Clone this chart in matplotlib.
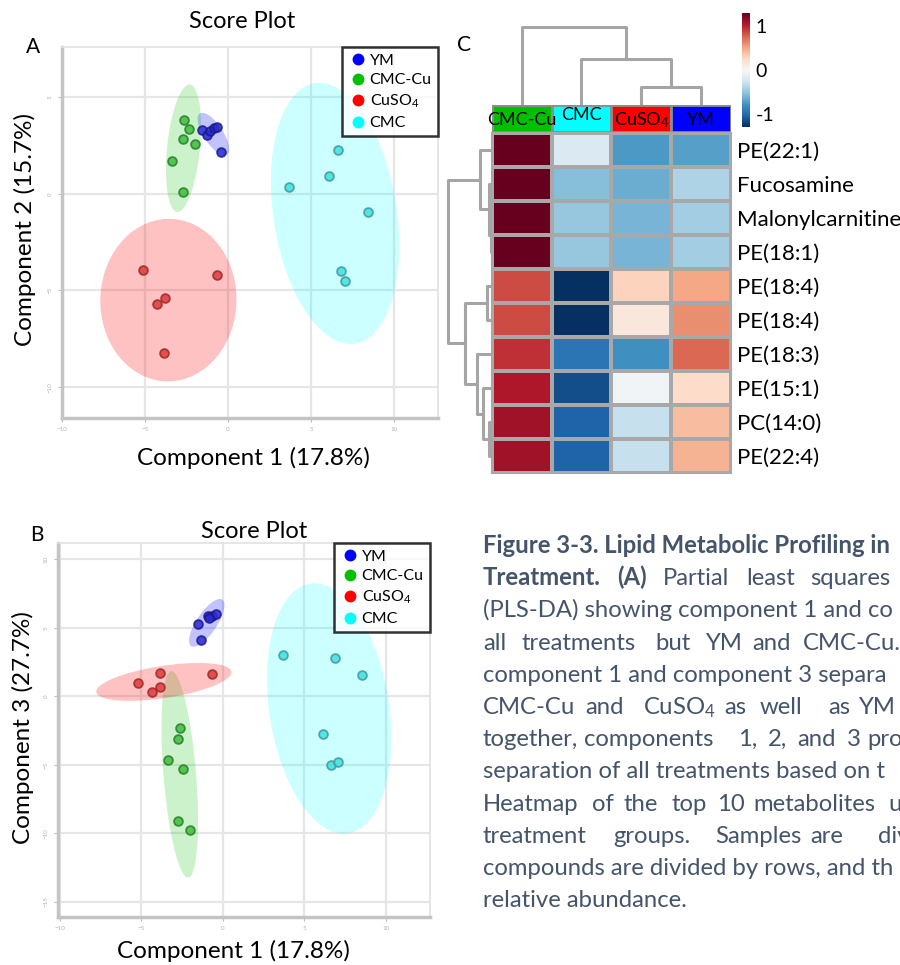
import matplotlib.pyplot as plt
from matplotlib.patches import Ellipse, Rectangle
import numpy as np

plt.rcParams['font.family'] = ['Lato', 'DejaVu Sans']
plt.rcParams['mathtext.fontset'] = 'custom'
plt.rcParams['mathtext.rm'] = 'Lato'
plt.rcParams['mathtext.it'] = 'Lato:italic'
plt.rcParams['mathtext.bf'] = 'Lato:bold'

W, H = 900, 965

groups = ['YM', 'CMC-Cu', 'CuSO4', 'CMC']
group_labels = ['YM', 'CMC-Cu', 'CuSO$_4$', 'CMC']
dot_colors = ['#2b2bd6', '#3cbf3c', '#e03a3a', '#3ee0e0']
dot_edges = ['#1a1a8a', '#2a7f2a', '#9c2a2a', '#3f9a9a']
fill_colors = ['#0000ff', '#00c000', '#ff0000', '#00ffff']
fill_alpha = [0.24, 0.2, 0.24, 0.2]

# scores: component 1 vs component 2
a_ym_x = [-1.57, -1.27, -1.08, -0.84, -0.66, -0.42]
a_ym_y = [3.32, 3.06, 3.27, 3.43, 3.48, 2.18]
a_cmccu_x = [-2.65, -2.35, -2.71, -1.99, -3.37, -2.71]
a_cmccu_y = [3.84, 3.37, 2.85, 2.59, 1.71, 0.10]
a_cuso4_x = [-5.12, -0.66, -3.80, -4.28, -3.86]
a_cuso4_y = [-3.94, -4.20, -5.40, -5.71, -8.25]
a_cmc_x = [6.63, 6.08, 3.67, 8.43, 6.81, 7.05]
a_cmc_y = [2.28, 0.93, 0.36, -0.93, -4.00, -4.51]

# scores: component 1 vs component 3
b_ym_x = [-1.52, -0.90, -0.69, -0.39, -1.31, -0.84]
b_ym_y = [5.26, 5.84, 5.84, 5.99, 4.09, 5.69]
b_cmccu_x = [-2.64, -2.74, -3.36, -2.44, -2.74, -2.02]
b_cmccu_y = [-2.34, -3.09, -4.67, -5.33, -9.10, -9.78]
b_cuso4_x = [-5.20, -3.87, -3.87, -4.31, -0.69]
b_cuso4_y = [1.00, 1.68, 0.68, 0.31, 1.61]
b_cmc_x = [3.70, 6.87, 8.51, 6.15, 6.63, 7.07]
b_cmc_y = [3.04, 2.80, 1.56, -2.77, -5.01, -4.77]

# 95% regions: centre x, centre y, semi-major, semi-minor, angle (deg)
a_regions = [(-0.88, 3.09, 1.35, 0.55, -51),
             (-2.68, 2.36, 3.32, 0.99, 83.2),
             (-3.59, -5.50, 4.21, 4.10, 80.5),
             (6.45, -1.01, 6.85, 3.70, 101.2)]
b_regions = [(-0.98, 5.37, 1.95, 0.65, 61.8),
             (-2.64, -5.69, 7.56, 1.00, 93.9),
             (-3.61, 1.06, 4.21, 1.17, 10.5),
             (6.52, -0.88, 9.19, 3.68, 96.7)]

# heatmap of top 10 metabolites
hm_cols = ['CMC-Cu', 'CMC', 'CuSO4', 'YM']
hm_col_labels = ['CMC-Cu', 'CMC', 'CuSO$_4$', 'YM']
hm_col_colors = ['#00c000', '#00ffff', '#ff0000', '#0000ff']
hm_rows = ['PE(22:1)', 'Fucosamine', 'Malonylcarnitine', 'PE(18:1)', 'PE(18:4)',
           'PE(18:4)', 'PE(18:3)', 'PE(15:1)', 'PC(14:0)', 'PE(22:4)']
hm_values = [[1.30, -0.20, -0.75, -0.72],
             [1.30, -0.55, -0.65, -0.40],
             [1.30, -0.50, -0.60, -0.45],
             [1.30, -0.50, -0.60, -0.45],
             [0.85, -1.30, 0.30, 0.50],
             [0.85, -1.30, 0.15, 0.60],
             [0.95, -0.95, -0.80, 0.75],
             [1.05, -1.15, -0.05, 0.25],
             [1.10, -1.05, -0.30, 0.40],
             [1.10, -1.05, -0.30, 0.45]]

# dendrograms as (height, left, right); ints are leaf indices
col_tree = (76, 0, (44, 1, (16, 2, 3)))
row_tree = (43.3, (11.7, 0, (2.3, 1, (1.0, 2, 3))),
            (26.7, (5.0, 4, 5), (15.0, 6, (9.0, 7, (2.3, 8, 9)))))

caption_color = '#44546a'
caption_lines = [
    [('Figure 3-3. Lipid Metabolic Profiling in', 483, True)],
    [('Treatment.', 483, True), ('(A)', 617, True), ('Partial', 663, False),
     ('least', 746, False), ('squares', 810, False)],
    [('(PLS-DA) showing component 1 and co', 483, False)],
    [('all', 483, False), ('treatments', 522, False), ('but', 655, False),
     ('YM', 705, False), ('and', 752, False), ('CMC-Cu.', 803, False)],
    [('component 1 and component 3 separa', 483, False)],
    [('CMC-Cu', 483, False), ('and', 585, False), ('CuSO$_4$', 643, False),
     ('as', 724, False), ('well', 760, False), ('as', 828, False), ('YM', 858, False)],
    [('together,', 483, False), ('components', 584, False), ('1,', 738, False),
     ('2,', 768, False), ('and', 797, False), ('3', 847, False), ('pro', 867, False)],
    [('separation of all treatments based on t', 483, False)],
    [('Heatmap', 483, False), ('of', 592, False), ('the', 623, False), ('top', 672, False),
     ('10', 717, False), ('metabolites', 753, False), ('u', 888, False)],
    [('treatment', 483, False), ('groups.', 613, False), ('Samples', 715, False),
     ('are', 810, False), ('div', 878, False)],
    [('compounds are divided by rows, and th', 483, False)],
    [('relative abundance.', 483, False)],
]


def box(left, top, right, bottom):
    return [left / W, 1 - bottom / H, (right - left) / W, (bottom - top) / H]


def score_plot(ax, xs, ys, regions, xlim, ylim, yticks):
    for i, (cx, cy, a, b, ang) in enumerate(regions):
        ax.add_patch(Ellipse((cx, cy), 2 * a, 2 * b, angle=ang,
                             facecolor=fill_colors[i], alpha=fill_alpha[i],
                             edgecolor='none', zorder=1))
    for i in range(len(groups)):
        ax.scatter(xs[i], ys[i], s=40, color=dot_colors[i], edgecolors=dot_edges[i],
                   linewidths=1.3, alpha=0.85, zorder=3)
    ax.set_xlim(*xlim)
    ax.set_ylim(*ylim)
    ax.set_xticks([-10, -5, 0, 5, 10])
    ax.set_yticks(yticks)
    ax.grid(True, color='#e6e6e6', lw=1.6, zorder=0)
    ax.set_axisbelow(True)
    ax.tick_params(labelsize=4.5, labelcolor='#b4b4b4', color='#bbbbbb', length=3)
    plt.setp(ax.get_yticklabels(), rotation=90, va='center')
    for side in ['top', 'right']:
        ax.spines[side].set_color('#e2e2e2')
        ax.spines[side].set_linewidth(1.2)
    for side in ['left', 'bottom']:
        ax.spines[side].set_color('#c4c4c4')
        ax.spines[side].set_linewidth(2.5)
    handles = [plt.Line2D([], [], ls='none', marker='o', ms=7.5, color=fill_colors[i])
               for i in range(len(groups))]
    leg = ax.legend(handles, group_labels, loc='upper right', fontsize=11.5,
                    frameon=True, fancybox=False, borderaxespad=0.0,
                    handletextpad=0.1, handlelength=1.2, labelspacing=0.35,
                    borderpad=0.4)
    leg.get_frame().set_edgecolor('black')
    leg.get_frame().set_linewidth(1.8)
    leg.set_zorder(5)


def draw_tree(ax, node, sideways=False):
    if isinstance(node, int):
        return node + 0.5, 0.0
    h, left, right = node
    p1, h1 = draw_tree(ax, left, sideways)
    p2, h2 = draw_tree(ax, right, sideways)
    pos = [p1, p1, p2, p2]
    hts = [h1, h, h, h2]
    if sideways:
        ax.plot(hts, pos, color='#a5a5a5', lw=2.2)
    else:
        ax.plot(pos, hts, color='#a5a5a5', lw=2.2)
    return (p1 + p2) / 2, h


fig = plt.figure(figsize=(W / 100, H / 100), dpi=100)

# --- A: component 1 vs 2
ax_a = fig.add_axes(box(62, 47, 438, 418))
score_plot(ax_a, [a_ym_x, a_cmccu_x, a_cuso4_x, a_cmc_x],
           [a_ym_y, a_cmccu_y, a_cuso4_y, a_cmc_y], a_regions,
           (-10, 12.65), (-11.6, 7.6), [-10, -5, 0, 5])
fig.text(242 / W, 1 - 22 / H, 'Score Plot', fontsize=17, ha='center', va='center')
fig.text(253 / W, 1 - 458 / H, 'Component 1 (17.8%)', fontsize=17.5, ha='center', va='center')
fig.text(25 / W, 1 - 230 / H, 'Component 2 (15.7%)', fontsize=17.5, ha='center',
         va='center', rotation=90)
fig.text(33 / W, 1 - 47 / H, 'A', fontsize=15, ha='center', va='center')

# --- B: component 1 vs 3
ax_b = fig.add_axes(box(58, 543, 430, 917))
score_plot(ax_b, [b_ym_x, b_cmccu_x, b_cuso4_x, b_cmc_x],
           [b_ym_y, b_cmccu_y, b_cuso4_y, b_cmc_y], b_regions,
           (-10.1, 12.7), (-16.1, 11.2), [-15, -10, -5, 0, 5, 10])
fig.text(254 / W, 1 - 531 / H, 'Score Plot', fontsize=17, ha='center', va='center')
fig.text(233 / W, 1 - 951 / H, 'Component 1 (17.8%)', fontsize=17.5, ha='center', va='center')
fig.text(23 / W, 1 - 728 / H, 'Component 3 (27.7%)', fontsize=17.5, ha='center',
         va='center', rotation=90)
fig.text(37 / W, 1 - 535 / H, 'B', fontsize=15, ha='center', va='center')

# --- C: clustered heatmap
ax_hm = fig.add_axes(box(491.7, 132.7, 731, 473.3))
vals = np.array(hm_values)
mesh = ax_hm.pcolormesh(vals, cmap='RdBu_r', vmin=-1.3, vmax=1.3,
                        edgecolors='#a8a8a8', linewidth=1.5)
ax_hm.set_xlim(0, len(hm_cols))
ax_hm.set_ylim(len(hm_rows), 0)
ax_hm.set_xticks([])
ax_hm.set_yticks(np.arange(len(hm_rows)) + 0.5)
ax_hm.set_yticklabels(hm_rows, fontsize=16)
ax_hm.yaxis.tick_right()
ax_hm.tick_params(axis='y', length=0, pad=4)
for sp in ax_hm.spines.values():
    sp.set_color('#a8a8a8')
    sp.set_linewidth(1.5)

ax_strip = fig.add_axes(box(491.7, 105, 731, 131.7))
for j, c in enumerate(hm_col_colors):
    ax_strip.add_patch(Rectangle((j, 0), 1, 1, facecolor=c, edgecolor='#8e8e8e', lw=2))
    dy = 0.62 if hm_cols[j] == 'CMC' else 0.45
    ax_strip.text(j + 0.5, dy, hm_col_labels[j], fontsize=13, ha='center', va='center',
                  color='black')
ax_strip.set_xlim(0, 4)
ax_strip.set_ylim(0, 1)
ax_strip.axis('off')

ax_cd = fig.add_axes(box(491.7, 25, 731, 105))
draw_tree(ax_cd, col_tree)
ax_cd.set_xlim(0, 4)
ax_cd.set_ylim(-2, 78)
ax_cd.axis('off')

ax_rd = fig.add_axes(box(446, 132.7, 491.7, 473.3))
draw_tree(ax_rd, row_tree, sideways=True)
ax_rd.set_xlim(45.7, 0)
ax_rd.set_ylim(len(hm_rows), 0)
ax_rd.axis('off')

ax_cb = fig.add_axes(box(741.7, 13, 750, 127))
cb = fig.colorbar(mesh, cax=ax_cb, ticks=[-1, 0, 1])
cb.ax.set_yticklabels(['-1', '0', '1'])
cb.ax.tick_params(labelsize=14, length=0, pad=4)
cb.outline.set_visible(False)
fig.text(464 / W, 1 - 45 / H, 'C', fontsize=15, ha='center', va='center')

# --- caption
for i, line in enumerate(caption_lines):
    yb = 553 + 32.2 * i
    for word, x, bold in line:
        fig.text(x / W, 1 - yb / H, word, fontsize=17.2, color=caption_color,
                 fontweight='bold' if bold else 'normal', ha='left', va='baseline')

fig.savefig('out.png', dpi=100)
